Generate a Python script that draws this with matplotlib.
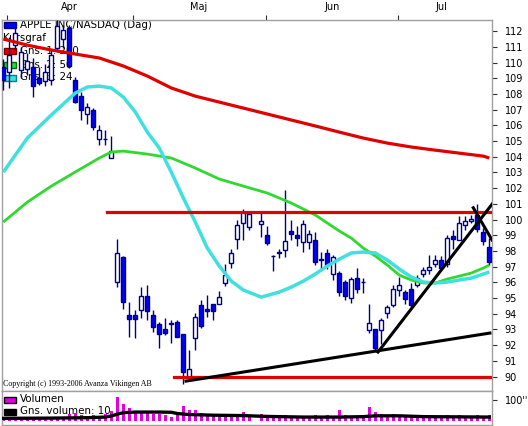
import matplotlib.pyplot as plt
from matplotlib.patches import Rectangle

# trading day positions (no bar at 42, holiday gap)
days = [i for i in range(82) if i != 42]

opens = [109.7, 109.4, 111.1, 109.5, 109.6, 109.7, 109.0, 108.8, 108.9, 110.9,
         111.5, 112.2, 108.9, 107.9, 106.7, 106.95, 105.1, 105.1, 103.95, 96.05,
         97.6, 93.95, 93.95, 94.25, 95.15, 93.95, 93.35, 93.05, 93.37, 93.45,
         92.7, 90.0, 92.45, 94.55, 94.3, 94.6, 94.65, 95.95, 97.25, 98.75,
         99.8, 99.5, 99.7, 99.0, 97.7, 97.95, 98.05, 99.25, 99.0, 98.6,
         98.6, 98.7, 97.5, 97.85, 96.55, 96.6, 96.05, 95.0, 96.25, 96.05,
         92.95, 93.05, 92.95, 94.05, 94.55, 95.5, 95.4, 95.6, 95.85, 96.55,
         96.8, 97.15, 97.4, 97.2, 98.95, 98.7, 99.65, 99.9, 100.3, 99.2, 98.25]
highs = [110.2, 111.6, 112.2, 111.0, 110.6, 110.3, 109.7, 109.9, 110.8, 112.7,
         112.4, 112.4, 109.1, 108.15, 107.4, 107.1, 106.0, 105.7, 105.3, 98.75,
         97.7, 94.75, 94.25, 95.7, 95.8, 94.25, 93.45, 93.75, 93.6, 93.6,
         92.7, 91.7, 94.05, 94.85, 95.2, 94.6, 95.45, 97.2, 98.15, 100.0,
         100.7, 100.5, 100.4, 99.6, 97.75, 98.15, 101.9, 99.95, 99.6, 100.0,
         99.35, 99.2, 97.95, 98.15, 97.75, 96.7, 96.15, 96.35, 96.9, 96.25,
         94.65, 93.05, 93.7, 94.55, 95.85, 96.35, 95.5, 95.95, 96.45, 97.0,
         97.75, 97.75, 97.65, 99.0, 99.35, 100.2, 100.2, 100.3, 101.0, 99.45, 98.8]
lows = [108.25, 108.4, 110.8, 109.0, 109.2, 107.8, 108.55, 108.5, 108.6, 110.7,
        110.9, 109.65, 107.4, 106.35, 106.1, 105.7, 104.75, 104.75, 103.95, 95.7,
        94.3, 92.55, 92.45, 93.7, 93.6, 92.85, 91.85, 92.65, 92.15, 92.5,
        89.55, 90.0, 91.7, 93.1, 93.8, 93.6, 94.65, 95.75, 96.9, 98.15,
        98.7, 99.35, 98.9, 98.4, 96.7, 97.55, 97.6, 98.7, 98.3, 97.95,
        98.15, 97.1, 96.8, 96.85, 96.15, 95.1, 94.85, 94.7, 95.35, 95.3,
        92.75, 91.6, 92.1, 93.7, 94.45, 95.1, 94.65, 94.35, 95.7, 96.35,
        96.55, 97.0, 96.8, 97.0, 98.15, 98.7, 99.35, 99.8, 99.2, 98.4, 97.1]
closes = [108.9, 110.5, 111.9, 110.7, 110.1, 108.5, 108.7, 109.4, 110.5, 112.3,
          112.1, 109.8, 107.5, 106.95, 107.15, 105.9, 105.7, 105.12, 104.35, 97.85,
          94.75, 93.65, 93.65, 95.15, 94.15, 93.15, 92.7, 92.75, 93.4, 92.5,
          90.3, 90.5, 93.8, 93.2, 94.2, 94.15, 95.05, 96.45, 97.9, 99.65,
          100.45, 100.35, 99.9, 98.5, 97.68, 97.85, 98.65, 99.05, 98.85, 99.7,
          99.05, 97.3, 97.45, 97.1, 97.6, 95.4, 95.1, 96.2, 95.55, 96.0,
          93.4, 91.8, 93.6, 94.4, 95.6, 95.85, 94.95, 94.55, 96.25, 96.8,
          97.0, 97.4, 96.9, 98.8, 98.75, 99.8, 99.9, 100.05, 99.4, 98.65, 97.3]
volumes = [14, 16, 13, 15, 12, 17, 14, 13, 16, 15, 19, 32, 40, 29, 19, 29, 24, 35, 48, 116,
           81, 64, 48, 45, 40, 35, 35, 29, 19, 40, 72, 52, 52, 40, 29, 35, 19, 24, 29, 32,
           45, 24, 35, 24, 24, 19, 29, 24, 19, 24, 16, 29, 24, 29, 19, 53, 29, 24, 24, 29,
           67, 45, 32, 29, 35, 24, 29, 19, 24, 19, 19, 24, 19, 29, 24, 29, 24, 19, 29, 24, 29]

# moving averages
ma200_x = [0, 4, 8, 12, 16, 20, 24, 28, 32, 36, 40, 44, 48, 52, 56, 60, 64, 68, 72, 76, 80, 81]
ma200_y = [111.5, 111.11, 110.8, 110.54, 110.29, 109.78, 109.14, 108.38, 107.86, 107.48, 107.1,
           106.72, 106.34, 105.96, 105.57, 105.19, 104.87, 104.62, 104.42, 104.23, 104.04, 103.92]
ma50_x = [0, 4, 8, 12, 16, 18, 20, 24, 28, 32, 36, 40, 44, 48, 52, 56, 58, 60, 62, 64, 66, 68,
          70, 72, 74, 76, 78, 80, 81]
ma50_y = [99.84, 101.11, 102.13, 103.03, 103.92, 104.3, 104.36, 104.17, 103.92, 103.28, 102.58,
          102.13, 101.69, 101.05, 100.29, 99.27, 98.82, 98.18, 97.68, 97.1, 96.46, 96.15, 95.96,
          95.96, 96.21, 96.4, 96.59, 96.91, 97.1]
ma24_x = [0, 4, 8, 12, 14, 16, 18, 20, 22, 24, 26, 28, 30, 32, 34, 36, 38, 40, 43, 46, 48, 50,
          52, 54, 56, 58, 60, 62, 64, 66, 68, 70, 72, 74, 76, 78, 80, 81]
ma24_y = [103.02, 105.19, 106.66, 108.06, 108.44, 108.5, 108.38, 107.8, 106.85, 105.57, 104.55,
          103.02, 101.37, 99.84, 98.18, 97.04, 96.08, 95.51, 95.06, 95.38, 95.7, 96.08, 96.53,
          97.04, 97.48, 97.87, 97.93, 97.87, 97.42, 96.85, 96.34, 96.02, 95.96, 96.02, 96.15,
          96.27, 96.53, 96.66]
volma_x = [0, 8, 14, 17, 18, 19, 20, 22, 26, 28, 29, 31, 35, 40, 44, 50, 56, 60, 62, 66, 70, 76, 81]
volma_y = [13, 14, 16, 19, 24, 33, 40, 43, 43, 42, 36, 31, 28, 26, 22, 19, 19, 21, 25, 25, 21, 20, 19]

# drawn lines
resist_x, resist_y = [17.3, 81.6], [100.48, 100.48]
support_x, support_y = [28.45, 81.6], [89.97, 89.97]
trend1_x, trend1_y = [30.45, 81.1], [89.71, 92.77]
trend2_x, trend2_y = [62.45, 81.6], [91.56, 101.05]
trend3_x, trend3_y = [78.33, 81.45], [100.75, 98.7]

month_starts = [0.6, 21.6, 43.7, 65.7]
month_mid = [10.95, 32.6, 54.8, 73.1]
month_names = ['Apr', 'Maj', 'Jun', 'Jul']

NAVY = '#000080'
BLUE = '#0000ff'
RED = '#e00000'
GREEN = '#30d830'
CYAN = '#40e0e0'
MAGENTA = '#e000e0'
GRAY = '#a0a0a0'

W, H = 528, 426
fig = plt.figure(figsize=(W / 100, H / 100), dpi=100)
ax = fig.add_axes([2 / W, 35 / H, 490 / W, 371 / H])
vax = fig.add_axes([2 / W, 1 / H, 490 / W, 34 / H])


def fx(px):
    return px / W


def fy(py):
    return 1 - py / H


# candles
ax.vlines(days, lows, highs, color=NAVY, lw=1, zorder=3)
up_d = [d for d, o, c in zip(days, opens, closes) if c >= o]
up_b = [o for o, c in zip(opens, closes) if c >= o]
up_h = [max(c - o, 0.03) for o, c in zip(opens, closes) if c >= o]
dn_d = [d for d, o, c in zip(days, opens, closes) if c < o]
dn_b = [c for o, c in zip(opens, closes) if c < o]
dn_h = [max(o - c, 0.03) for o, c in zip(opens, closes) if c < o]
ax.bar(up_d, up_h, bottom=up_b, width=0.7, color='white', edgecolor=NAVY, lw=1, zorder=3.5)
ax.bar(dn_d, dn_h, bottom=dn_b, width=0.7, color=BLUE, edgecolor=NAVY, lw=1, zorder=3.5)

ax.plot(ma200_x, ma200_y, color=RED, lw=2.3, zorder=4, solid_capstyle='butt')
ax.plot(ma50_x, ma50_y, color=GREEN, lw=2.0, zorder=4, solid_capstyle='butt')
ax.plot(ma24_x, ma24_y, color=CYAN, lw=2.5, zorder=4, solid_capstyle='butt')
ax.plot(resist_x, resist_y, color=RED, lw=2.3, zorder=4)
ax.plot(support_x, support_y, color=RED, lw=2.3, zorder=4)
for tx, ty in [(trend1_x, trend1_y), (trend2_x, trend2_y), (trend3_x, trend3_y)]:
    ax.plot(tx, ty, color='black', lw=2.2, zorder=5)

ax.set_xlim(-0.22, 81.45)
ax.set_ylim(89.08, 112.71)

# axes
for a in (ax, vax):
    for s in a.spines.values():
        s.set_color(GRAY)
        s.set_linewidth(1)
ax.yaxis.tick_right()
ax.set_yticks(range(90, 113))
ax.tick_params(axis='y', length=3.6, width=0.8, color='#303030', pad=5.5, labelsize=7)
ax.xaxis.tick_top()
ax.set_xticks(month_starts)
ax.set_xticklabels([])
ax.set_xticks(month_mid, minor=True)
ax.set_xticklabels(month_names, minor=True)
ax.tick_params(axis='x', which='major', length=3.6, width=0.8, color='#303030')
ax.tick_params(axis='x', which='minor', length=0, pad=6, labelsize=7)

# legend (drawn underneath the price data)
leg = [(BLUE, NAVY, 'APPLE INC/NASDAQ (Dag)', 25), (None, None, 'Kursgraf', 38),
       (RED, '#800000', 'Gns. 1: 200', 51), (GREEN, '#007000', 'Gns. 2: 50', 64.5),
       (CYAN, '#008080', 'Gns. 3: 24', 77.5)]
for fc, ec, label, py in leg:
    if fc is None:
        ax.text(fx(3), fy(py), label, transform=fig.transFigure, fontsize=7.4,
                va='center', ha='left', zorder=1)
        continue
    ax.add_patch(Rectangle((fx(4), fy(py + 3)), 12 / W, 6 / H, transform=fig.transFigure,
                           facecolor=fc, edgecolor=ec, lw=1, zorder=1))
    ax.text(fx(20), fy(py), label, transform=fig.transFigure, fontsize=7.4,
            va='center', ha='left', zorder=1)
ax.text(fx(3), fy(384), 'Copyright (c) 1993-2006 Avanza Vikingen AB', transform=fig.transFigure,
        fontsize=5.8, family='Liberation Serif', va='center', ha='left', zorder=1)

# volume panel
vax.bar(days, volumes, width=0.55, color=MAGENTA, lw=0, zorder=2)
vax.plot(volma_x, volma_y, color='black', lw=2.4, zorder=3)
vax.set_xlim(-0.22, 81.45)
vax.set_ylim(-19, 144)
vax.set_xticks([])
vax.yaxis.tick_right()
vax.set_yticks([100])
vax.set_yticklabels(["100''"])
vax.tick_params(axis='y', length=3.6, width=0.8, color='#303030', pad=5.5, labelsize=7)
for fc, label, py in [(MAGENTA, 'Volumen', 399.5), ('black', 'Gns. volumen: 10', 411.5)]:
    vax.add_patch(Rectangle((fx(4), fy(py + 3)), 12 / W, 6 / H, transform=fig.transFigure,
                            facecolor=fc, edgecolor='black', lw=1, zorder=1))
    vax.text(fx(20), fy(py), label, transform=fig.transFigure, fontsize=7.4,
             va='center', ha='left', zorder=1)

fig.savefig('out.png', dpi=100)
